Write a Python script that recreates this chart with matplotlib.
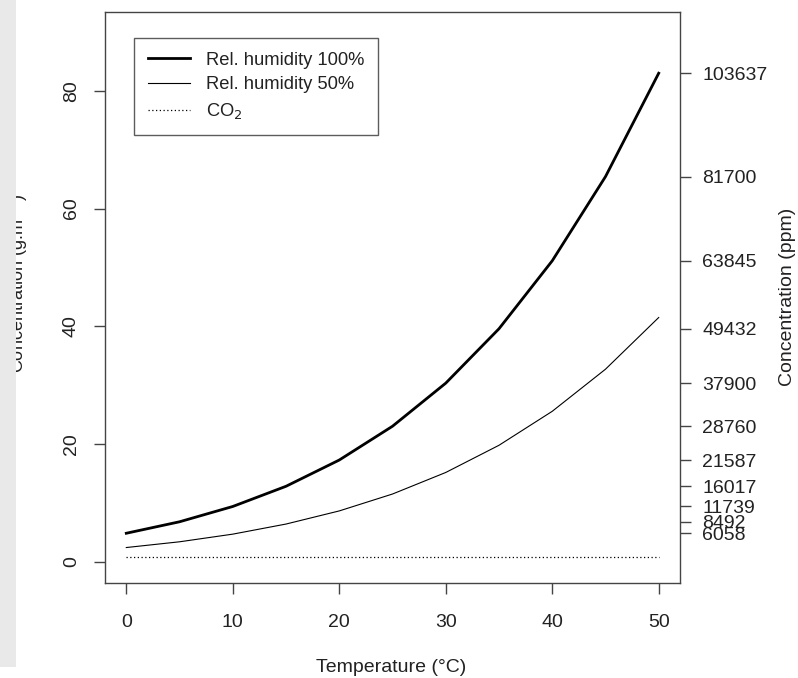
import matplotlib
matplotlib.use("Agg")
import matplotlib.pyplot as plt
from matplotlib.patches import Rectangle

# data: saturation absolute humidity (g/m3) by temperature
temps = [0, 5, 10, 15, 20, 25, 30, 35, 40, 45, 50]
hum_100 = [4.85, 6.80, 9.40, 12.83, 17.29, 23.03, 30.35, 39.59, 51.13, 65.43, 83.00]
hum_50 = [h / 2 for h in hum_100]
co2 = [0.8] * len(temps)
ppm_labels = ["6058", "8492", "11739", "16017", "21587", "28760",
              "37900", "49432", "63845", "81700", "103637"]

plt.rcParams['font.family'] = ['Liberation Sans', 'DejaVu Sans']
plt.rcParams['font.size'] = 14

W, H = 798, 678
fig = plt.figure(figsize=(W / 100, H / 100), dpi=100)
ax = fig.add_axes([105 / W, 1 - 583 / H, 575 / W, 571 / H])

ink = '#222222'
ax.plot(temps, hum_100, color='black', lw=2.0, label='Rel. humidity 100%')
ax.plot(temps, hum_50, color='black', lw=0.8, label='Rel. humidity 50%')
ax.plot(temps, co2, color='black', lw=0.9, ls=(0, (1, 2)), label='CO$_2$')

ax.set_xlim(-2, 52)
ax.set_ylim(-3.6, 93.4)
ax.set_xticks([0, 10, 20, 30, 40, 50])
ax.set_yticks([0, 20, 40, 60, 80])
for s in ax.spines.values():
    s.set_color('#444444')
    s.set_linewidth(1.0)
ax.tick_params(axis='x', length=8, width=1, color='#444444', pad=14.5, labelcolor=ink)
ax.tick_params(axis='y', length=8, width=1, color='#444444', pad=10, labelcolor=ink)
for t in ax.get_yticklabels():
    t.set_rotation(90)
    t.set_va('center')

ax2 = ax.twinx()
ax2.set_ylim(ax.get_ylim())
ax2.set_yticks(hum_100)
ax2.set_yticklabels(ppm_labels)
ax2.tick_params(axis='y', length=8, width=1, color='#444444', pad=8, labelcolor=ink)
for s in ax2.spines.values():
    s.set_visible(False)

leg = ax.legend(loc='upper left', bbox_to_anchor=((134 - 105) / 575, (583 - 38) / 571),
                frameon=True, fancybox=False, handlelength=2.3, handletextpad=0.85,
                borderpad=0.75, labelspacing=0.42, borderaxespad=0, fontsize=13.2)
leg.get_frame().set_edgecolor('#333333')
leg.get_frame().set_linewidth(1.0)
for t in leg.get_texts():
    t.set_color(ink)

fig.text(391 / W, 1 - 667 / H, 'Temperature (°C)', ha='center', va='center', color=ink)
fig.text(788 / W, 1 - 297 / H, 'Concentration (ppm)', ha='center', va='center',
         rotation=90, color=ink)
fig.text(18 / W, 1 - 283 / H, 'Concentration (g.m$^{-3}$)', ha='center', va='center',
         rotation=90, color=ink, fontsize=13)

# grey strip at left edge of the screenshot
fig.patches.append(Rectangle((0, 1 - 667 / H), 16 / W, 667 / H, transform=fig.transFigure,
                             facecolor='#e9e9e9', edgecolor='none', zorder=10))

fig.savefig('out.png', dpi=100)
